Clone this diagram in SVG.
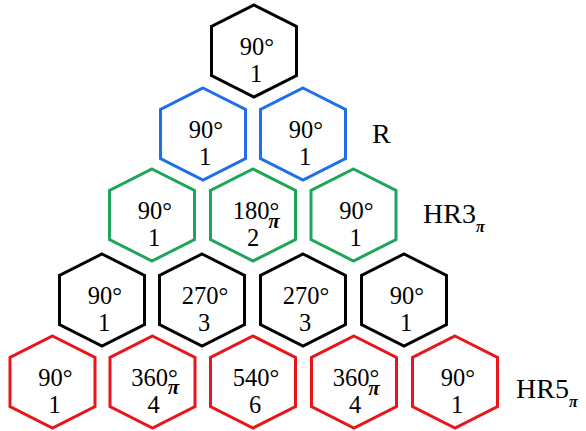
<svg xmlns="http://www.w3.org/2000/svg" width="586" height="431" viewBox="0 0 586 431">
<defs>
<style>
.hx{fill:#fff;stroke-width:3;stroke-linejoin:miter}
.k{stroke:#000}
.b{stroke:#1f6fe8}
.g{stroke:#1fa55a}
.r{stroke:#e8161b}
text{font-family:"Liberation Serif","Times New Roman",serif;fill:#000}
.t{font-size:24.5px;text-anchor:middle}
.p{font-size:21px;font-weight:bold;font-style:italic;text-anchor:middle}
.lab{font-size:28px}
.sub{font-size:16px;font-weight:bold;font-style:italic}
</style>
<polygon id="hex" points="0,-46 42.5,-24.5 42.5,24.5 0,46 -42.5,24.5 -42.5,-24.5"/>
</defs>
<rect width="586" height="431" fill="#fff"/>

<g id="r1n1" transform="translate(254,51)"><use href="#hex" class="hx k"/><text class="t" x="3" y="4">90°</text><text class="t" x="2" y="31">1</text></g>

<g id="r2n1" transform="translate(203,134)"><use href="#hex" class="hx b"/><text class="t" x="3" y="4">90°</text><text class="t" x="2" y="31">1</text></g>
<g id="r2n2" transform="translate(303,134)"><use href="#hex" class="hx b"/><text class="t" x="3" y="4">90°</text><text class="t" x="2" y="31">1</text></g>

<g id="r3n1" transform="translate(152,215)"><use href="#hex" class="hx g"/><text class="t" x="3" y="4">90°</text><text class="t" x="2" y="31">1</text></g>
<g id="r3n2" transform="translate(253,215)"><use href="#hex" class="hx g"/><text class="t" x="3" y="4">180°</text><text class="p" x="21" y="13">π</text><text class="t" x="0" y="31">2</text></g>
<g id="r3n3" transform="translate(353.5,215)"><use href="#hex" class="hx g"/><text class="t" x="3" y="4">90°</text><text class="t" x="2" y="31">1</text></g>

<g id="r4n1" transform="translate(102,300)"><use href="#hex" class="hx k"/><text class="t" x="3" y="4">90°</text><text class="t" x="2" y="31">1</text></g>
<g id="r4n2" transform="translate(202,300)"><use href="#hex" class="hx k"/><text class="t" x="3" y="4">270°</text><text class="t" x="2" y="31">3</text></g>
<g id="r4n3" transform="translate(303,300)"><use href="#hex" class="hx k"/><text class="t" x="3" y="4">270°</text><text class="t" x="2" y="31">3</text></g>
<g id="r4n4" transform="translate(404,300)"><use href="#hex" class="hx k"/><text class="t" x="3" y="4">90°</text><text class="t" x="2" y="31">1</text></g>

<g id="r5n1" transform="translate(52.5,382)"><use href="#hex" class="hx r"/><text class="t" x="3" y="4">90°</text><text class="t" x="2" y="31">1</text></g>
<g id="r5n2" transform="translate(152.5,382)"><use href="#hex" class="hx r"/><text class="t" x="2" y="4">360°</text><text class="p" x="21" y="12">π</text><text class="t" x="1" y="31">4</text></g>
<g id="r5n3" transform="translate(253,382)"><use href="#hex" class="hx r"/><text class="t" x="3" y="4">540°</text><text class="t" x="2" y="31">6</text></g>
<g id="r5n4" transform="translate(354,382)"><use href="#hex" class="hx r"/><text class="t" x="2" y="4">360°</text><text class="p" x="20" y="13">π</text><text class="t" x="1" y="31">4</text></g>
<g id="r5n5" transform="translate(455,382)"><use href="#hex" class="hx r"/><text class="t" x="3" y="4">90°</text><text class="t" x="2" y="31">1</text></g>

<g id="labels">
<text class="lab" x="372" y="143">R</text>
<text class="lab" x="423" y="223">HR3<tspan class="sub" dy="9">π</tspan></text>
<text class="lab" x="516" y="398">HR5<tspan class="sub" dy="9">π</tspan></text>
</g>
<g id="connectors"/>
</svg>
